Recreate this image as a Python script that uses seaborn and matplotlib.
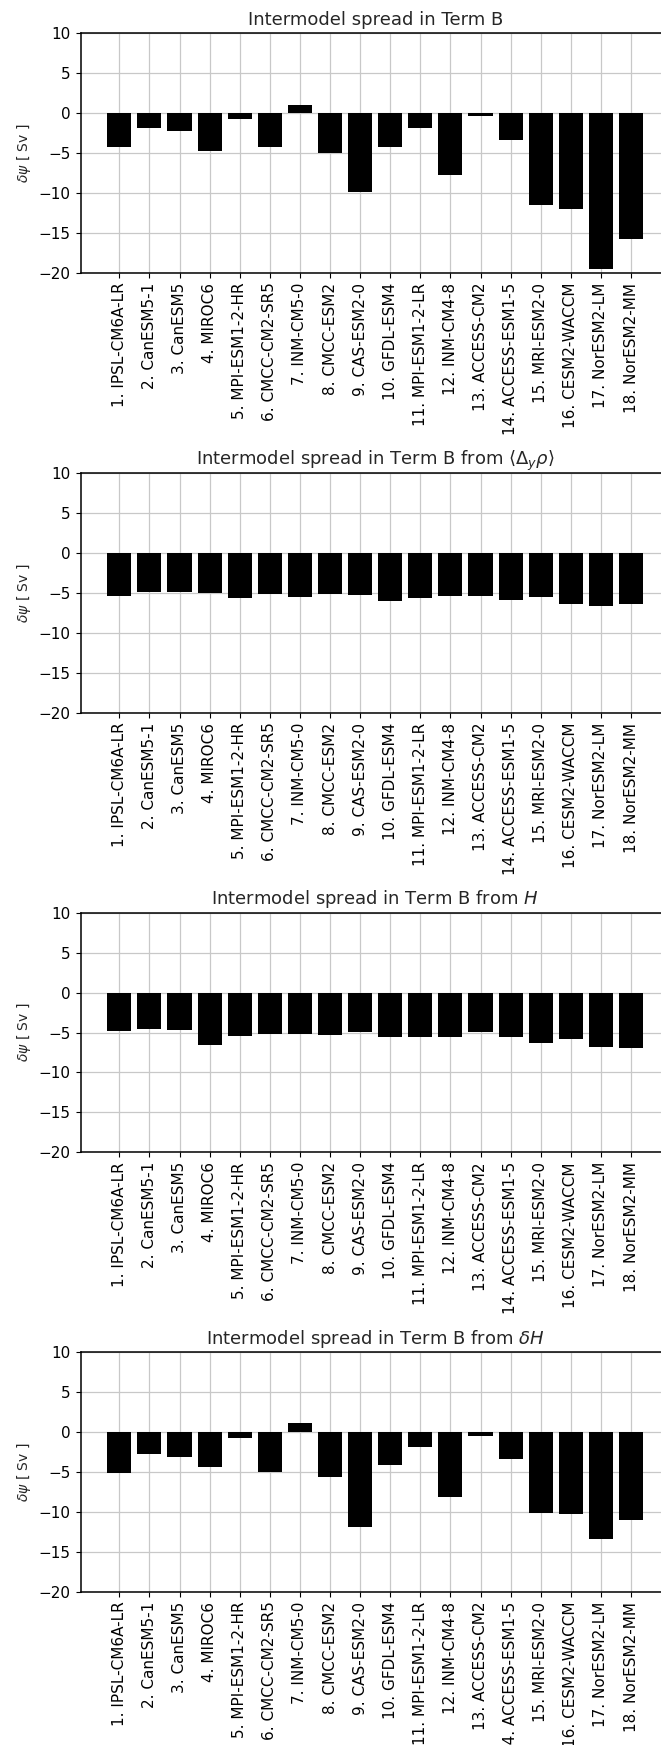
import matplotlib
matplotlib.use("Agg")
import matplotlib.pyplot as plt
import seaborn as sns
import pandas as pd

models = ["1. IPSL-CM6A-LR", "2. CanESM5-1", "3. CanESM5", "4. MIROC6",
          "5. MPI-ESM1-2-HR", "6. CMCC-CM2-SR5", "7. INM-CM5-0", "8. CMCC-ESM2",
          "9. CAS-ESM2-0", "10. GFDL-ESM4", "11. MPI-ESM1-2-LR", "12. INM-CM4-8",
          "13. ACCESS-CM2", "14. ACCESS-ESM1-5", "15. MRI-ESM2-0", "16. CESM2-WACCM",
          "17. NorESM2-LM", "18. NorESM2-MM"]

term_b = [-4.3, -1.9, -2.3, -4.7, -0.7, -4.2, 1.0, -5.0, -9.85, -4.3,
          -1.8, -7.8, -0.3, -3.4, -11.45, -12.05, -19.55, -15.8]
term_b_rho = [-5.35, -4.9, -4.9, -5.0, -5.6, -5.1, -5.5, -5.1, -5.2, -6.0,
              -5.6, -5.35, -5.35, -5.85, -5.5, -6.35, -6.6, -6.35]
term_b_H = [-4.75, -4.5, -4.65, -6.5, -5.4, -5.15, -5.15, -5.25, -4.9, -5.5,
            -5.5, -5.5, -4.9, -5.5, -6.25, -5.8, -6.8, -6.9]
term_b_dH = [-5.1, -2.7, -3.1, -4.35, -0.7, -5.0, 1.1, -5.6, -11.9, -4.1,
             -1.85, -8.1, -0.45, -3.35, -10.15, -10.25, -13.4, -11.0]

titles = ["Intermodel spread in Term B",
          r"Intermodel spread in Term B from $\langle\Delta_y\rho\rangle$",
          r"Intermodel spread in Term B from $H$",
          r"Intermodel spread in Term B from $\delta H$"]
series = [term_b, term_b_rho, term_b_H, term_b_dH]
yticks = [-20, -15, -10, -5, 0, 5, 10]

sns.set_style("whitegrid", {
    "axes.edgecolor": "black",
    "grid.color": "#c8c8c8",
    "xtick.bottom": True,
    "ytick.left": True,
    "axes.spines.right": True,
    "axes.spines.top": True,
})
plt.rcParams["font.family"] = ["DejaVu Sans"]
plt.rcParams["axes.linewidth"] = 1.1
plt.rcParams["xtick.major.size"] = 3.5
plt.rcParams["ytick.major.size"] = 3.5
plt.rcParams["xtick.color"] = "black"
plt.rcParams["ytick.color"] = "black"

W, H = 661, 1745
fig = plt.figure(figsize=(W / 100, H / 100), dpi=100)

left_px = 80.5
unit = 30.1
xlo, xhi = -1.29, 18.29
width_px = (xhi - xlo) * unit
height_px = 239.5
tops = [33.3, 473.3, 912.8, 1352.3]

for title, vals, top in zip(titles, series, tops):
    ax = fig.add_axes([left_px / W, 1 - (top + height_px) / H,
                       width_px / W, height_px / H])
    df = pd.DataFrame({"model": models, "value": vals})
    sns.barplot(data=df, x="model", y="value", color="black", saturation=1,
                width=0.8, linewidth=0, ax=ax, errorbar=None)
    ax.set_xlim(xlo, xhi)
    ax.set_ylim(-20, 10)
    ax.set_yticks(yticks)
    ax.xaxis.grid(True, color="#c8c8c8", linewidth=0.9)
    ax.yaxis.grid(True, color="#c8c8c8", linewidth=0.9)
    ax.set_axisbelow(True)
    ax.set_xlabel("")
    ax.set_ylabel(r"$\delta\psi$ [ Sv ]", fontsize=10)
    ax.set_title(title, fontsize=13)
    ax.tick_params(axis="x", labelrotation=90, labelsize=11)
    ax.tick_params(axis="y", labelsize=11)
    for s in ax.spines.values():
        s.set_color("black")

fig.savefig("out.png", dpi=100)
